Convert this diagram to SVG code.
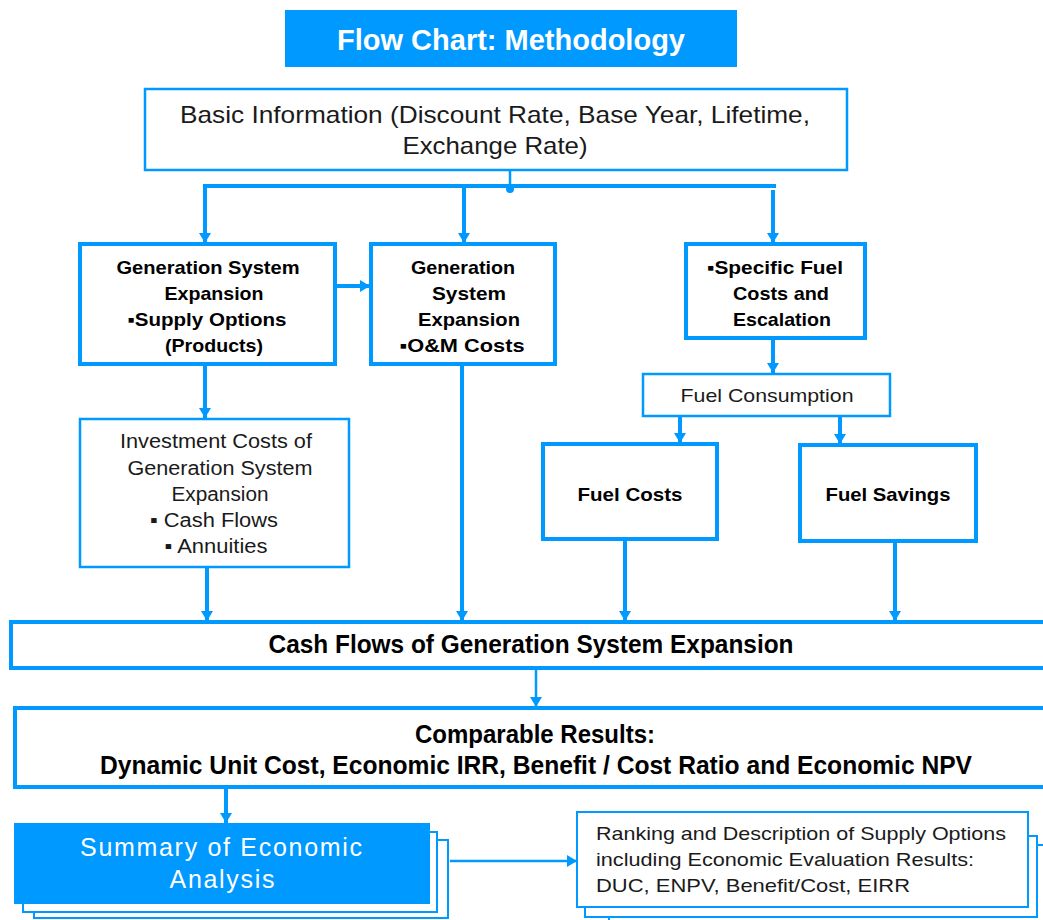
<svg xmlns="http://www.w3.org/2000/svg" width="1043" height="920" viewBox="0 0 1043 920">
  <style>
    .thick { fill: #ffffff; stroke: #0099ff; stroke-width: 4; }
    .thin { fill: #ffffff; stroke: #0099ff; stroke-width: 2.5; }
    .stack { fill: #ffffff; stroke: #0099ff; stroke-width: 2; }
    .bold { font-family: "Liberation Sans", Arial, sans-serif; font-weight: bold; fill: #000000; text-anchor: middle; }
    .reg { font-family: "Liberation Sans", Arial, sans-serif; fill: #1a1a1a; text-anchor: middle; }
    .left { font-family: "Liberation Sans", Arial, sans-serif; fill: #1a1a1a; text-anchor: start; }
    .wire { fill: none; stroke: #0099ff; stroke-width: 4; }
    .wire2 { fill: none; stroke: #0099ff; stroke-width: 2.5; }
  </style>
  <defs>
    <marker id="arrow" markerUnits="userSpaceOnUse" markerWidth="14" markerHeight="12" refX="10" refY="6" orient="auto">
      <path d="M0,0 L10,6 L0,12 Z" fill="#0099ff"/>
    </marker>
  </defs>
  <rect width="1043" height="920" fill="#ffffff"/>

  <!-- heading -->
  <g id="title">
    <rect x="285" y="10" width="452" height="57" fill="#0099ff"/>
    <text x="511" y="50" font-family="Liberation Sans, Arial, sans-serif" font-weight="bold" font-size="29" fill="#ffffff" text-anchor="middle">Flow Chart: Methodology</text>
  </g>

  <!-- connectors -->
  <g id="connectors">
    <path class="wire2" d="M510 170 V187"/>
    <path class="wire" d="M203 186 H776"/>
    <circle cx="510" cy="189" r="4" fill="#0099ff"/>
    <path class="wire" d="M205 186 V243" marker-end="url(#arrow)"/>
    <path class="wire" d="M464 186 V243" marker-end="url(#arrow)"/>
    <path class="wire" d="M773 190 V243" marker-end="url(#arrow)"/>
    <path class="wire" d="M336 286 H370" marker-end="url(#arrow)"/>
    <path class="wire" d="M773 339 V373" marker-end="url(#arrow)"/>
    <path class="wire" d="M680 417 V443" marker-end="url(#arrow)"/>
    <path class="wire" d="M840 417 V444" marker-end="url(#arrow)"/>
    <path class="wire" d="M205 365 V418" marker-end="url(#arrow)"/>
    <path class="wire" d="M207 568 V621" marker-end="url(#arrow)"/>
    <path class="wire" d="M462 365 V621" marker-end="url(#arrow)"/>
    <path class="wire" d="M625 540 V621" marker-end="url(#arrow)"/>
    <path class="wire" d="M895 542 V621" marker-end="url(#arrow)"/>
    <path class="wire2" d="M536 669 V707" marker-end="url(#arrow)"/>
    <path class="wire" d="M226 788 V823" marker-end="url(#arrow)"/>
    <path class="wire2" d="M450 861 H577" marker-end="url(#arrow)"/>
  </g>

  <g id="basic-information">
    <rect class="thin" x="145" y="89" width="702" height="81"/>
    <text class="reg" font-size="24" x="495" y="123" textLength="630" lengthAdjust="spacingAndGlyphs">Basic Information (Discount Rate, Base Year, Lifetime,</text>
    <text class="reg" font-size="24" x="495" y="154" textLength="185" lengthAdjust="spacingAndGlyphs">Exchange Rate)</text>
  </g>

  <g id="supply-options">
    <rect class="thick" x="80" y="244" width="255" height="120"/>
    <text class="bold" font-size="19" x="208" y="274" textLength="183" lengthAdjust="spacingAndGlyphs">Generation System</text>
    <text class="bold" font-size="19" x="214" y="300" textLength="99" lengthAdjust="spacingAndGlyphs">Expansion</text>
    <text class="bold" font-size="19" x="207" y="326" textLength="159" lengthAdjust="spacingAndGlyphs">▪Supply Options</text>
    <text class="bold" font-size="19" x="214" y="352" textLength="98" lengthAdjust="spacingAndGlyphs">(Products)</text>
  </g>

  <g id="om-costs">
    <rect class="thick" x="371" y="244" width="184" height="120"/>
    <text class="bold" font-size="19" x="463" y="274" textLength="104" lengthAdjust="spacingAndGlyphs">Generation</text>
    <text class="bold" font-size="19" x="469" y="300" textLength="74" lengthAdjust="spacingAndGlyphs">System</text>
    <text class="bold" font-size="19" x="469" y="326" textLength="102" lengthAdjust="spacingAndGlyphs">Expansion</text>
    <text class="bold" font-size="19" x="462" y="352" textLength="125" lengthAdjust="spacingAndGlyphs">▪O&amp;M Costs</text>
  </g>

  <g id="specific-fuel-costs">
    <rect class="thick" x="686" y="244" width="179" height="94"/>
    <text class="bold" font-size="19" x="775" y="274" textLength="136" lengthAdjust="spacingAndGlyphs">▪Specific Fuel</text>
    <text class="bold" font-size="19" x="781" y="300" textLength="96" lengthAdjust="spacingAndGlyphs">Costs and</text>
    <text class="bold" font-size="19" x="782" y="326" textLength="98" lengthAdjust="spacingAndGlyphs">Escalation</text>
  </g>

  <g id="fuel-consumption">
    <rect class="thin" x="643" y="374" width="247" height="42"/>
    <text class="reg" font-size="19" x="767" y="402" textLength="173" lengthAdjust="spacingAndGlyphs">Fuel Consumption</text>
  </g>

  <g id="fuel-costs">
    <rect class="thick" x="543" y="444" width="174" height="95"/>
    <text class="bold" font-size="19" x="630" y="501" textLength="105" lengthAdjust="spacingAndGlyphs">Fuel Costs</text>
  </g>

  <g id="fuel-savings">
    <rect class="thick" x="800" y="445" width="176" height="96"/>
    <text class="bold" font-size="19" x="888" y="501" textLength="125" lengthAdjust="spacingAndGlyphs">Fuel Savings</text>
  </g>

  <g id="investment-costs">
    <rect class="thin" x="80" y="419" width="269" height="148"/>
    <text class="reg" font-size="20" x="216" y="448" textLength="192" lengthAdjust="spacingAndGlyphs">Investment Costs of</text>
    <text class="reg" font-size="20" x="220" y="475" textLength="185" lengthAdjust="spacingAndGlyphs">Generation System</text>
    <text class="reg" font-size="20" x="220" y="501" textLength="97" lengthAdjust="spacingAndGlyphs">Expansion</text>
    <text class="reg" font-size="20" x="214" y="527" textLength="128" lengthAdjust="spacingAndGlyphs">▪ Cash Flows</text>
    <text class="reg" font-size="20" x="216" y="553" textLength="103" lengthAdjust="spacingAndGlyphs">▪ Annuities</text>
  </g>

  <g id="cash-flows">
    <rect class="thick" x="11" y="622" width="1040" height="46"/>
    <text class="bold" font-size="25" x="531" y="653" textLength="525" lengthAdjust="spacingAndGlyphs">Cash Flows of Generation System Expansion</text>
  </g>

  <g id="comparable-results">
    <rect class="thick" x="15" y="708" width="1040" height="79"/>
    <text class="bold" font-size="25" x="535" y="743" textLength="240" lengthAdjust="spacingAndGlyphs">Comparable Results:</text>
    <text class="bold" font-size="25" x="536" y="774" textLength="872" lengthAdjust="spacingAndGlyphs">Dynamic Unit Cost, Economic IRR, Benefit / Cost Ratio and Economic NPV</text>
  </g>

  <g id="summary">
    <rect class="stack" x="34" y="840" width="414" height="78"/>
    <rect class="stack" x="23" y="832" width="414" height="80"/>
    <rect x="14" y="823" width="416" height="81" fill="#0099ff"/>
    <text x="221" y="856" font-family="Liberation Sans, Arial, sans-serif" font-size="25" fill="#ffffff" text-anchor="middle" textLength="282" lengthAdjust="spacing">Summary of Economic</text>
    <text x="222" y="888" font-family="Liberation Sans, Arial, sans-serif" font-size="25" fill="#ffffff" text-anchor="middle" textLength="105" lengthAdjust="spacing">Analysis</text>
  </g>

  <g id="ranking">
    <rect class="stack" x="609" y="845" width="450" height="90"/>
    <rect class="stack" x="585" y="836" width="452" height="81"/>
    <rect class="stack" x="577" y="812" width="451" height="95"/>
    <text class="left" font-size="19" x="596" y="840" textLength="410" lengthAdjust="spacingAndGlyphs">Ranking and Description of Supply Options</text>
    <text class="left" font-size="19" x="596" y="866" textLength="378" lengthAdjust="spacingAndGlyphs">including Economic Evaluation Results:</text>
    <text class="left" font-size="19" x="596" y="892" textLength="314" lengthAdjust="spacingAndGlyphs">DUC, ENPV, Benefit/Cost, EIRR</text>
  </g>
</svg>
